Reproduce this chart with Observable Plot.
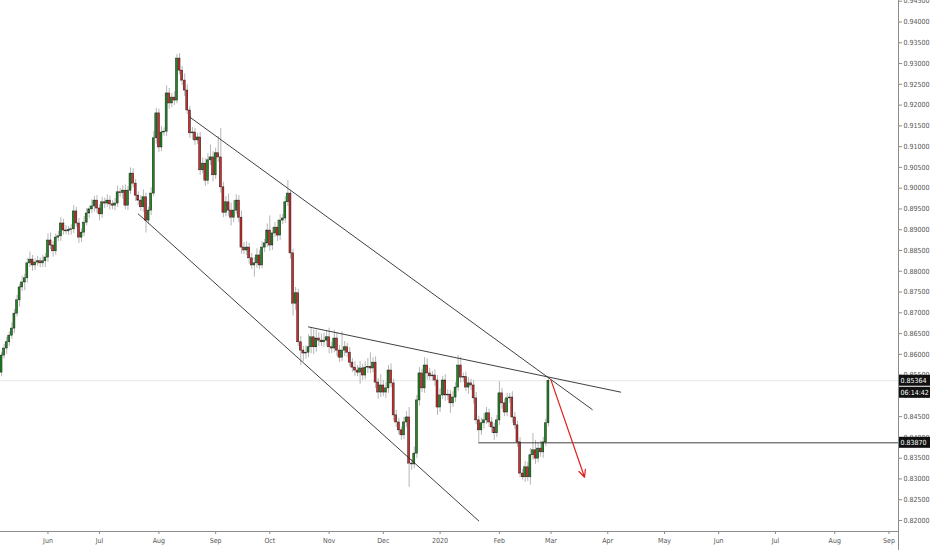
<!DOCTYPE html>
<html>
<head>
<meta charset="utf-8">
<script src="https://cdn.jsdelivr.net/npm/d3@7"></script>
<script src="https://cdn.jsdelivr.net/npm/@observablehq/plot@0.6"></script>
<style>
  body { margin: 0; background: #fff; }
  #chart svg { display: block; }
</style>
</head>
<body>
<div id="chart"></div>
<script>
// Daily candles, one per weekday, first bar on 2019-05-08
const firstBar = "2019-05-08";

const opens = [
  0.8556, 0.8597, 0.8614, 0.8629, 0.8645, 0.8662, 0.8698, 0.8730, 0.8761, 0.8773, 0.8783, 0.8819, 0.8828, 0.8814, 0.8821, 0.8824, 0.8819, 0.8824, 0.8833, 0.8874,
  0.8862, 0.8848, 0.8881, 0.8884, 0.8915, 0.8898, 0.8896, 0.8899, 0.8901, 0.8944, 0.8915, 0.8881, 0.8893, 0.8917, 0.8939, 0.8949, 0.8956, 0.8970, 0.8951,
  0.8937, 0.8966, 0.8963, 0.8970, 0.8961, 0.8958, 0.8963, 0.8990, 0.8988, 0.8994, 0.8958, 0.8994, 0.9035, 0.9011, 0.8982, 0.8970, 0.8954, 0.8978, 0.8922, 0.8946,
  0.8987, 0.9120, 0.9180, 0.9098, 0.9134, 0.9136, 0.9228, 0.9204, 0.9218, 0.9211, 0.9312, 0.9283, 0.9259, 0.9235, 0.9187, 0.9132, 0.9134,
  0.9115, 0.9122, 0.9043, 0.9059, 0.9018, 0.9067, 0.9074, 0.9031, 0.9084, 0.9074, 0.9002, 0.8941, 0.8966, 0.8946, 0.8929, 0.8946, 0.8970, 0.8929, 0.8857, 0.8850,
  0.8857, 0.8831, 0.8814, 0.8819, 0.8838, 0.8814, 0.8857, 0.8867, 0.8898, 0.8862, 0.8891, 0.8905, 0.8886, 0.8922, 0.8927, 0.8966, 0.8987, 0.8843, 0.8722, 0.8747,
  0.8629, 0.8609, 0.8602, 0.8604, 0.8617, 0.8641, 0.8617, 0.8638, 0.8633, 0.8629, 0.8633, 0.8641, 0.8617, 0.8614, 0.8638, 0.8609, 0.8592, 0.8609, 0.8617, 0.8604,
  0.8580, 0.8568, 0.8561, 0.8556, 0.8566, 0.8549, 0.8568, 0.8570, 0.8566, 0.8580, 0.8532, 0.8508, 0.8525, 0.8508, 0.8518, 0.8561, 0.8530, 0.8453, 0.8436, 0.8417,
  0.8405, 0.8436, 0.8448, 0.8337, 0.8335, 0.8361, 0.8489, 0.8554, 0.8518, 0.8573, 0.8554, 0.8547, 0.8549, 0.8537, 0.8472, 0.8501, 0.8537, 0.8501, 0.8503, 0.8482,
  0.8496, 0.8520, 0.8573, 0.8544, 0.8545, 0.8520, 0.8530, 0.8525, 0.8494, 0.8441, 0.8417, 0.8434, 0.8441, 0.8458, 0.8436, 0.8424, 0.8410, 0.8441, 0.8506, 0.8482,
  0.8460, 0.8494, 0.8496, 0.8448, 0.8429, 0.8388, 0.8313, 0.8304, 0.8328, 0.8304, 0.8357, 0.8369, 0.8349, 0.8373, 0.8364, 0.8388, 0.8434
];

const closes = [
  0.8597, 0.8614, 0.8629, 0.8645, 0.8662, 0.8698, 0.8730, 0.8761, 0.8773, 0.8783, 0.8819, 0.8828, 0.8814, 0.8821, 0.8824, 0.8819, 0.8824, 0.8833, 0.8874, 0.8862,
  0.8848, 0.8881, 0.8884, 0.8915, 0.8898, 0.8896, 0.8899, 0.8901, 0.8944, 0.8915, 0.8881, 0.8893, 0.8917, 0.8939, 0.8949, 0.8956, 0.8970, 0.8951, 0.8937,
  0.8966, 0.8963, 0.8970, 0.8961, 0.8958, 0.8963, 0.8990, 0.8988, 0.8994, 0.8958, 0.8994, 0.9035, 0.9011, 0.8982, 0.8970, 0.8954, 0.8978, 0.8922, 0.8946, 0.8987,
  0.9120, 0.9180, 0.9098, 0.9134, 0.9136, 0.9228, 0.9204, 0.9218, 0.9211, 0.9312, 0.9283, 0.9259, 0.9235, 0.9187, 0.9132, 0.9134, 0.9115,
  0.9122, 0.9043, 0.9059, 0.9018, 0.9067, 0.9074, 0.9031, 0.9084, 0.9074, 0.9002, 0.8941, 0.8966, 0.8946, 0.8929, 0.8946, 0.8970, 0.8929, 0.8857, 0.8850, 0.8857,
  0.8831, 0.8814, 0.8819, 0.8838, 0.8814, 0.8857, 0.8867, 0.8898, 0.8862, 0.8891, 0.8905, 0.8886, 0.8922, 0.8927, 0.8966, 0.8987, 0.8843, 0.8722, 0.8747, 0.8629,
  0.8609, 0.8602, 0.8604, 0.8617, 0.8641, 0.8617, 0.8638, 0.8633, 0.8629, 0.8633, 0.8641, 0.8617, 0.8614, 0.8638, 0.8609, 0.8592, 0.8609, 0.8617, 0.8604, 0.8580,
  0.8568, 0.8561, 0.8556, 0.8566, 0.8549, 0.8568, 0.8570, 0.8566, 0.8580, 0.8532, 0.8508, 0.8525, 0.8508, 0.8518, 0.8561, 0.8530, 0.8453, 0.8436, 0.8417, 0.8405,
  0.8436, 0.8448, 0.8337, 0.8335, 0.8361, 0.8489, 0.8554, 0.8518, 0.8573, 0.8554, 0.8547, 0.8549, 0.8537, 0.8472, 0.8501, 0.8537, 0.8501, 0.8503, 0.8482, 0.8496,
  0.8520, 0.8573, 0.8544, 0.8545, 0.8520, 0.8530, 0.8525, 0.8494, 0.8441, 0.8417, 0.8434, 0.8441, 0.8458, 0.8436, 0.8424, 0.8410, 0.8441, 0.8506, 0.8482, 0.8460,
  0.8494, 0.8496, 0.8448, 0.8429, 0.8388, 0.8313, 0.8304, 0.8328, 0.8304, 0.8357, 0.8369, 0.8349, 0.8373, 0.8364, 0.8388, 0.8434, 0.85364
];

// wick lengths in pips, above and below the candle body
const upWick = [
  8, 10, 12, 9, 14, 10, 12, 8, 15, 10, 12, 18, 10, 9, 12, 8, 14, 10, 16, 18, 10, 9, 12, 14, 10, 12, 9, 11, 14, 10, 12, 9, 15, 12, 8, 16, 10, 12, 9,
  12, 10, 14, 11, 9, 12, 15, 10, 12, 14, 10, 14, 12, 10, 9, 12, 18, 10, 8, 14, 16, 12, 10, 14, 9, 18, 12, 10, 14, 10, 12, 10, 16, 14, 10, 12, 10,
  10, 12, 14, 12, 16, 30, 14, 12, 40, 70, 12, 14, 20, 18, 24, 14, 12, 16, 12, 14, 10, 12, 14, 16, 12, 14, 10, 16, 35, 14, 12, 18, 14, 10, 14, 31, 8, 10, 14, 10,
  14, 10, 16, 30, 24, 18, 20, 14, 16, 18, 14, 22, 12, 20, 14, 12, 45, 14, 10, 12, 10, 14, 12, 16, 10, 14, 20, 34, 12, 14, 10, 26, 12, 14, 12, 16, 10, 12, 10, 8,
  12, 14, 24, 10, 16, 12, 14, 10, 19, 16, 12, 10, 14, 12, 16, 10, 14, 12, 10, 14, 12, 24, 20, 10, 12, 14, 10, 12, 14, 10, 12, 16, 14, 10, 12, 10, 12, 28, 12, 10,
  12, 10, 14, 12, 10, 12, 10, 14, 12, 16, 40, 24, 14, 18, 12, 10, 5
];
const downWick = [
  10, 8, 14, 10, 9, 12, 8, 16, 10, 20, 12, 10, 14, 12, 9, 11, 10, 15, 12, 10, 14, 9, 10, 12, 11, 8, 10, 12, 10, 9, 14, 12, 10, 8, 12, 10, 14, 12, 16,
  10, 12, 9, 14, 10, 12, 9, 10, 14, 10, 12, 9, 10, 14, 12, 10, 12, 30, 10, 12, 8, 14, 12, 10, 9, 12, 14, 10, 12, 8, 10, 12, 14, 10, 12, 16, 12,
  10, 12, 8, 14, 10, 12, 16, 10, 12, 14, 12, 10, 14, 20, 12, 10, 12, 16, 10, 12, 14, 10, 28, 12, 10, 8, 12, 10, 14, 12, 10, 14, 12, 10, 12, 10, 14, 30, 16, 10,
  36, 20, 14, 12, 16, 18, 12, 14, 10, 12, 14, 16, 12, 10, 14, 12, 10, 14, 12, 10, 12, 14, 10, 28, 12, 10, 14, 12, 10, 14, 16, 12, 10, 14, 12, 10, 14, 12, 10, 12,
  10, 12, 57, 14, 10, 12, 14, 10, 12, 16, 10, 12, 14, 19, 12, 10, 14, 12, 24, 10, 12, 10, 14, 12, 10, 16, 12, 14, 10, 29, 12, 14, 10, 12, 14, 17, 10, 12, 14, 10,
  10, 12, 14, 10, 12, 10, 7, 12, 10, 19, 12, 14, 10, 12, 14, 10, 9
];

const lastPrice = 0.85364;
const countdown = "06:14:42";
const supportLevel = 0.8387;
const supportStart = "2020-01-22";

const monthStarts = ["2019-06", "2019-07", "2019-08", "2019-09", "2019-10", "2019-11", "2019-12", "2020-01",
  "2020-02", "2020-03", "2020-04", "2020-05", "2020-06", "2020-07", "2020-08", "2020-09"];
const monthLabels = ["Jun", "Jul", "Aug", "Sep", "Oct", "Nov", "Dec", "2020",
  "Feb", "Mar", "Apr", "May", "Jun", "Jul", "Aug", "Sep"];

const yTicks = d3.range(0.82, 0.9451, 0.005);

// drawn lines: [date, price]
const channelLower = [["2019-07-22", 0.8938], ["2020-01-22", 0.8199]];
const channelUpper = [["2019-08-19", 0.9171], ["2020-03-24", 0.8467]];
const neckline = [["2019-10-22", 0.8666], ["2020-04-08", 0.8509]];
const forecast = [["2020-03-02", 0.8538], ["2020-03-19", 0.8304]];

// weekday calendar -> bar index
const fmt = d3.utcFormat("%Y-%m-%d");
const days = d3.utcDays(new Date(firstBar + "T00:00Z"), new Date("2020-10-01T00:00Z"))
  .filter(d => d.getUTCDay() !== 0 && d.getUTCDay() !== 6)
  .map(fmt);
const barOf = new Map(days.map((d, i) => [d, i]));

const bars = closes.map((c, i) => ({
  i,
  open: opens[i],
  close: c,
  high: Math.max(opens[i], c) + upWick[i] / 1e4,
  low: Math.min(opens[i], c) - downWick[i] / 1e4
}));

const tickIdx = monthStarts.map(m => days.findIndex(d => d.startsWith(m)));
const tickLabel = new Map(tickIdx.map((t, k) => [t, monthLabels[k]]));

const xMin = -0.4, xMax = 347.7;
const yMin = 0.81735, yMax = 0.94518;
const toPts = arr => arr.map(([d, p]) => ({x: barOf.get(d), y: p}));

const lineStyle = {x: "x", y: "y", stroke: "#2a2a2a", strokeWidth: 0.9};

const chart = Plot.plot({
  width: 932,
  height: 550,
  marginLeft: 0,
  marginRight: 34,
  marginTop: 0,
  marginBottom: 19,
  style: {
    fontFamily: "'Liberation Sans Narrow', 'DejaVu Sans Condensed', 'Liberation Sans', sans-serif",
    fontSize: "7px",
    background: "#fff"
  },
  x: {domain: [xMin, xMax], label: null},
  y: {domain: [yMin, yMax], label: null},
  marks: [
    // current price guide
    Plot.ruleY([lastPrice], {stroke: "#e6e6e6"}),
    // candles
    Plot.ruleX(bars, {x: "i", y1: "low", y2: "high", stroke: "#a3a3a3", strokeWidth: 0.8}),
    Plot.rect(bars, {
      x1: d => d.i - 0.38,
      x2: d => d.i + 0.38,
      y1: "open",
      y2: "close",
      fill: d => d.close >= d.open ? "#1e8a1e" : "#d42a2a",
      stroke: "#1a1a1a",
      strokeWidth: 0.5
    }),
    // drawings
    Plot.line(toPts(channelLower), lineStyle),
    Plot.line(toPts(channelUpper), lineStyle),
    Plot.line(toPts(neckline), lineStyle),
    Plot.ruleY([supportLevel], {x1: barOf.get(supportStart), x2: xMax, stroke: "#2a2a2a", strokeWidth: 0.9}),
    Plot.arrow([forecast], {
      x1: d => barOf.get(d[0][0]), y1: d => d[0][1],
      x2: d => barOf.get(d[1][0]), y2: d => d[1][1],
      stroke: "#e0201c", strokeWidth: 1.2, headLength: 10, headAngle: 50
    }),
    // axes
    Plot.ruleY([yMin], {x1: xMin, x2: xMax, stroke: "#8c8c8c"}),
    Plot.ruleX([xMax], {y1: yMax, y2: yMin - 0.005, stroke: "#8c8c8c"}),
    Plot.axisY(yTicks, {
      anchor: "right", tickSize: 3, tickPadding: 2, label: null, fontSize: 7,
      tickFormat: d => d.toFixed(5), color: "#555", stroke: "#8c8c8c"
    }),
    Plot.axisX(tickIdx, {
      anchor: "bottom", tickSize: 3, tickPadding: 4, label: null, fontSize: 7,
      tickFormat: i => tickLabel.get(i), color: "#555", stroke: "#8c8c8c"
    })
  ]
});

d3.select("#chart").append(() => chart);

// price tags on the right axis, drawn over the tick labels as in the terminal
const ys = chart.scale("y");
const xEdge = chart.scale("x").apply(xMax);
const tags = [
  {price: lastPrice, text: lastPrice.toFixed(5), shift: 0},
  {price: lastPrice, text: countdown, shift: 12},
  {price: supportLevel, text: supportLevel.toFixed(5), shift: 0}
];
const tagLayer = d3.select(chart).append("g").attr("text-anchor", "start");
tags.forEach(t => {
  const cy = ys.apply(t.price) + t.shift;
  tagLayer.append("rect")
    .attr("x", xEdge + 1).attr("y", cy - 5.5)
    .attr("width", 31).attr("height", 11)
    .attr("fill", "#111");
  tagLayer.append("text")
    .attr("x", xEdge + 2.5).attr("y", cy).attr("dy", "0.35em")
    .attr("fill", "#fff").attr("font-size", 7)
    .text(t.text);
});
</script>
</body>
</html>
